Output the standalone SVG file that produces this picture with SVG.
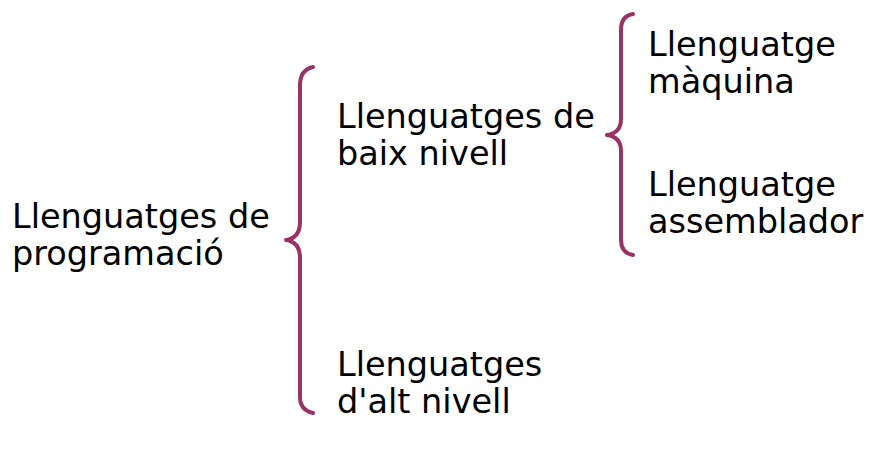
<svg xmlns="http://www.w3.org/2000/svg" width="885" height="449" viewBox="0 0 885 449">
<style>
.t{font-family:"DejaVu Sans",sans-serif;font-size:33.5px;fill:#000}
.b{fill:none;stroke:#993366;stroke-width:4;stroke-linecap:round;stroke-linejoin:round}
</style>
<rect width="885" height="449" fill="#fff"/>
<g id="connectors">
<path class="b" d="M313,67 Q300,70 300,85 L300,222 Q300,238 286,240 Q300,242 300,258 L300,397 Q300,410 313,413"/>
<path class="b" d="M633,14 Q621,16 621,30 L621,119 Q621,133 607,135 Q621,137 621,151 L621,240 Q621,253 633,255"/>
</g>
<g id="n-root"><text class="t" x="12" y="228">Llenguatges de</text><text class="t" x="12" y="265">programació</text></g>
<g id="n-baix"><text class="t" x="337" y="128">Llenguatges de</text><text class="t" x="337" y="165">baix nivell</text></g>
<g id="n-alt"><text class="t" x="337" y="376">Llenguatges</text><text class="t" x="337" y="413">d'alt nivell</text></g>
<g id="n-maquina"><text class="t" x="648" y="56">Llenguatge</text><text class="t" x="648" y="93">màquina</text></g>
<g id="n-assemb"><text class="t" x="648" y="196">Llenguatge</text><text class="t" x="648" y="233">assemblador</text></g>
</svg>
